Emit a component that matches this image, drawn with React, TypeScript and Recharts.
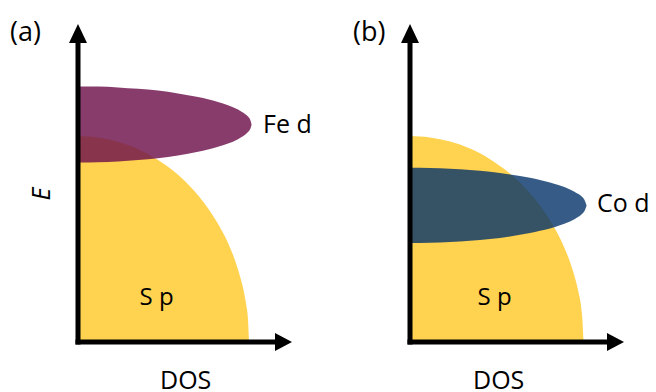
import { ComposedChart, Area, XAxis, YAxis, Scatter, ReferenceLine, ReferenceDot } from "recharts";

const dosA = [0, 1, 2, 3, 4, 5, 6, 6.5, 7, 7.5, 8, 8.2, 8.3, 8.4, 8.5, 8.55, 8.6, 8.68];
const spA = [10.3, 10.23, 10.01, 9.65, 9.1, 8.36, 7.34, 6.69, 5.91, 4.95, 3.63, 2.92, 2.47, 1.92, 1.11, 0, null, null];
const feD = [
  [8.98, 12.78], [8.99, 12.77], [9.03, 12.73], [9.1, 12.66], [9.19, 12.57], [9.33, 12.43],
  [9.51, 12.25], [9.62, 12.14], [9.76, 12.0], [9.92, 11.84], [10.14, 11.62], [10.26, 11.5],
  [10.32, 11.44], [10.4, 11.36], [10.5, 11.27], [10.55, 11.21], [10.62, 11.14], [10.88, 10.88],
];

const dosB = [0, 1, 2, 3, 4, 5, 6, 6.5, 7, 7.5, 8, 8.2, 8.4, 8.6, 8.68, 8.7, 8.83];
const spB = [10.3, 10.23, 10.02, 9.67, 9.14, 8.42, 7.44, 6.83, 6.09, 5.19, 4.0, 3.38, 2.6, 1.4, 0, null, null];
const coD = [
  [4.95, 8.71], [4.96, 8.7], [5.0, 8.66], [5.06, 8.6], [5.15, 8.51], [5.28, 8.38],
  [5.45, 8.21], [5.56, 8.1], [5.68, 7.98], [5.84, 7.82], [6.03, 7.63], [6.13, 7.53],
  [6.25, 7.41], [6.4, 7.26], [6.49, 7.18], [6.51, 7.15], [6.83, 6.83],
];

// axis ends, where the arrowheads sit
const xMax = 10;
const yMax = 15;
const xArrow = [{ dos: xMax, e: 0 }];
const yArrow = [{ dos: 0, e: yMax }];

// where the "S p" label sits inside each yellow band
const spLabelA = { dos: 3.93, e: 2.3 };
const spLabelB = { dos: 4.23, e: 2.3 };

const FONT = "Open Sans";
const YELLOW = "#FFD24F";

const XHead = (p: any) => (
  <polygon points={`${p.cx - 3},${p.cy - 9} ${p.cx + 14},${p.cy} ${p.cx - 3},${p.cy + 9}`} fill="#000" />
);
const YHead = (p: any) => (
  <polygon points={`${p.cx - 9},${p.cy + 1} ${p.cx},${p.cy - 18} ${p.cx + 9},${p.cy + 1}`} fill="#000" />
);

type PanelProps = {
  width: number;
  rows: { dos: number; sp: number | null; band: number[] }[];
  bandColor: string;
  tag: string;
  bandLabel: string;
  bandLabelPos: [number, number];
  spLabel: { dos: number; e: number };
  showE: boolean;
};

function Panel(props: PanelProps) {
  const { width, rows, bandColor, tag, bandLabel, bandLabelPos, spLabel, showE } = props;
  const a = tag === "(a)";
  return (
    <ComposedChart
      width={width}
      height={392}
      data={rows}
      margin={{ top: 42, left: 78, right: width - 278, bottom: 50 }}
    >
      <XAxis dataKey="dos" type="number" domain={[0, xMax]} hide />
      <YAxis type="number" domain={[0, yMax]} hide />
      <Area dataKey="sp" type="monotone" fill={YELLOW} fillOpacity={1} stroke="none" dot={false} activeDot={false} isAnimationActive={false} />
      <Area dataKey="band" type="monotone" fill={bandColor} fillOpacity={0.82} stroke="none" dot={false} activeDot={false} isAnimationActive={false} />
      <ReferenceLine segment={[{ x: 0, y: 0 }, { x: xMax, y: 0 }]} stroke="#000" strokeWidth={5} strokeLinecap="square" />
      <ReferenceLine segment={[{ x: 0, y: 0 }, { x: 0, y: yMax }]} stroke="#000" strokeWidth={5} strokeLinecap="square" />
      <ReferenceDot
        x={spLabel.dos}
        y={spLabel.e}
        r={1}
        fill="none"
        stroke="none"
        label={{ value: "S p", position: "center", fontSize: 24, fontFamily: FONT, fill: "#000" }}
      />
      <Scatter data={xArrow} dataKey="e" shape={XHead} isAnimationActive={false} />
      <Scatter data={yArrow} dataKey="e" shape={YHead} isAnimationActive={false} />
      <text x={a ? 10 : 21} y={41} fontFamily={FONT} fontSize={27} fill="#000">{tag}</text>
      <text x={bandLabelPos[0]} y={bandLabelPos[1]} fontFamily={FONT} fontSize={25} fill="#000">{bandLabel}</text>
      <text x={a ? 160 : 141} y={389} fontFamily={FONT} fontSize={25} fill="#000">DOS</text>
      {showE && (
        <text x={50} y={194} transform="rotate(-90, 50, 194)" textAnchor="middle" fontFamily={FONT} fontSize={25} fontStyle="italic" fill="#000">E</text>
      )}
    </ComposedChart>
  );
}

export default function App() {
  const rowsA = dosA.map((d, i) => ({ dos: d, sp: spA[i], band: feD[i] }));
  const rowsB = dosB.map((d, i) => ({ dos: d, sp: spB[i], band: coD[i] }));
  return (
    <div style={{ position: "absolute", left: 0, top: 0, width: 656, height: 392, background: "#fff", display: "flex" }}>
      <Panel width={332} rows={rowsA} bandColor="#6D114C" tag="(a)" bandLabel="Fe d" bandLabelPos={[263, 133]} spLabel={spLabelA} showE={true} />
      <Panel width={324} rows={rowsB} bandColor="#0A376B" tag="(b)" bandLabel="Co d" bandLabelPos={[265, 212]} spLabel={spLabelB} showE={false} />
    </div>
  );
}
